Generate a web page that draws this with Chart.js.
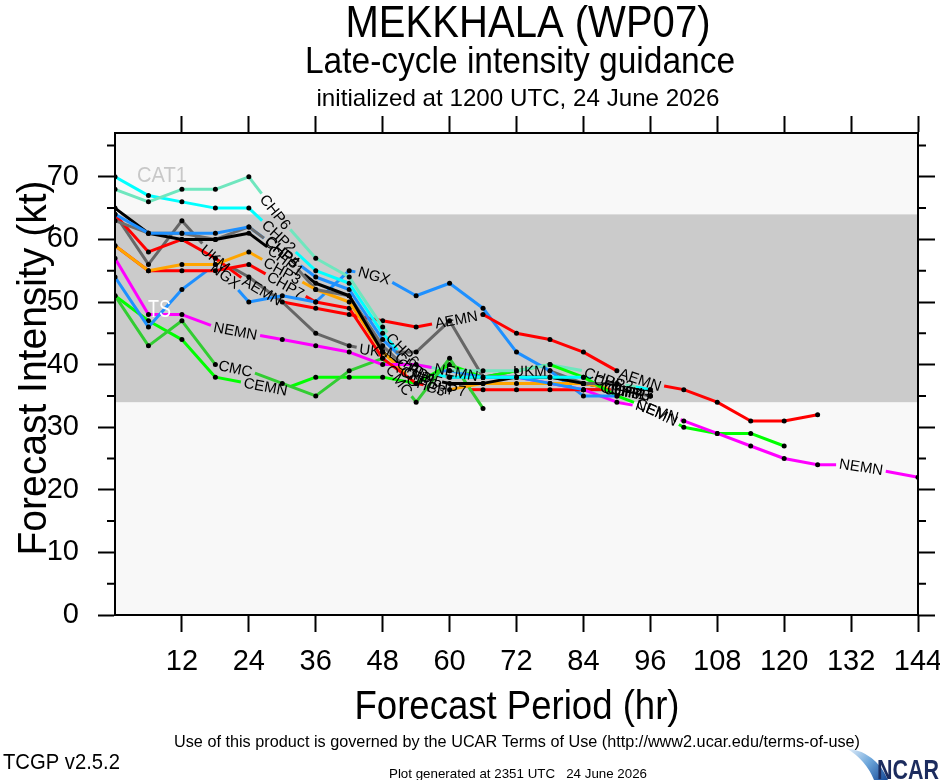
<!DOCTYPE html>
<html><head><meta charset="utf-8">
<script src="https://cdn.jsdelivr.net/npm/chart.js@4.4.1/dist/chart.umd.min.js"></script>
<style>html,body{margin:0;padding:0;background:#fff;}canvas{display:block;}</style>
</head><body>
<canvas id="c" width="940" height="780"></canvas>
<script>
// ---------------- data ----------------
const hours = [0,6,12,18,24,30,36,42,48,54,60,66,72,78,84,90,96,102,108,114,120,126,132,138,144];
const xTickLabels = [12,24,36,48,60,72,84,96,108,120,132,144];
const yTickLabels = [0,10,20,30,40,50,60,70];
const yMinorTicks = [5,15,25,35,45,55,65,75];
const seriesNames = ['CHP6','CHP2','CHP4','CHP1','CHP5','CHP3','CHP7','AEMN','NGX','UKM','NEMN','CMC','CEMN'];
const chp6 = [68,66,68,68,70,63,57,54,46,40,39,39,39,40,39,37,36];
const chp2 = [70,67,66,65,65,60,55,53,45,39,38,38,38,38,38,37,36];
const chp4 = [64,61,61,61,62,58,54,52,44,39,39,38,38,37,36,36,35];
const chp1 = [65,61,60,60,61,57,53,51,42,38,37,37,38,38,37,36,35];
const chp5 = [63,61,61,60,62,58,52,51,43,38,38,38,38,38,37,36,35];
const chp3 = [59,55,56,56,58,55,52,50,42,37,36,37,37,37,37,36,35];
const chp7 = [59,55,55,55,56,53,50,49,41,37,36,36,36,36,36,36,35];
const aemn = [64,58,60,57,53,50,49,48,47,46,47,48,45,44,42,39,37,36,34,31,31,32];
const ngx  = [54,46,52,56,50,51,50,55,54,51,53,49,42,39,35,35];
const ukm  = [64,56,63,57,54,50,45,43,42,42,47,38,39,39,37,37];
const nemn = [57,48,48,46,45,44,43,42,40,40,39,38,38,37,36,34,33,31,29,27,25,24,24,23,22];
const cmc  = [51,43,47,40,39,37,35,39,41,34,41,33];
const cemn = [51,47,44,38,37,36,38,38,38,37,40,38,39,40,38,35,33,30,29,29,27];
const seriesValues = [chp6,chp2,chp4,chp1,chp5,chp3,chp7,aemn,ngx,ukm,nemn,cmc,cemn];
const tsBand = [34,64];   // tropical storm range (kt)
const yMax = 77;

// ---------------- text ----------------
const titleText = 'MEKKHALA (WP07)';
const subtitleText = 'Late-cycle intensity guidance';
const initText = 'initialized at 1200 UTC, 24 June 2026';
const xTitleText = 'Forecast Period (hr)';
const yTitleText = 'Forecast Intensity (kt)';
const termsText = 'Use of this product is governed by the UCAR Terms of Use (http://www2.ucar.edu/terms-of-use)';
const versionText = 'TCGP v2.5.2';
const generatedText = 'Plot generated at 2351 UTC   24 June 2026';

// ---------------- styles ----------------
const seriesColors = ['#6fe6be','#00ffff','#1e90ff','#000000','#6e6e6e','#ffa500','#ff0000','#ff0000','#1e90ff','#666666','#ff00ff','#32cd32','#00ff00'];
// fractional point index where each in-line label sits
const labelAt = {
  CHP6:[4.8,8.6,14.6], CHP2:[4.9,8.9,14.9], CHP4:[5.0,9.0,15.2], CHP1:[5.1,9.1,15.3],
  CHP5:[5.0,9.2,15.1], CHP3:[5.0,9.3,15.4], CHP7:[5.1,9.9,15.5], AEMN:[4.4,10.2,15.7],
  NGX:[3.3,7.75], UKM:[3.0,7.8,12.4], NEMN:[3.6,10.2,16.2,22.3], CMC:[3.6,8.5], CEMN:[4.5,16.2]
};
const FONT = '"Liberation Sans", Arial, Helvetica, sans-serif';
const LABEL_FONT = '15px ' + FONT;
const DOT_R = 2.5;

function ptsOf(chart, di) {
  const ds = chart.data.datasets[di];
  const xs = chart.scales.x, ys = chart.scales.y;
  return ds.data.map(p => ({x: xs.getPixelForValue(p.x), y: ys.getPixelForValue(p.y)}));
}
function labelGeoms(chart, di) {
  const ds = chart.data.datasets[di];
  if (!ds.labelAt || !chart.scales.x) return [];
  const pts = ptsOf(chart, di);
  const ctx = chart.ctx;
  ctx.save(); ctx.font = LABEL_FONT;
  const w = ctx.measureText(ds.label).width;
  ctx.restore();
  const n = pts.length;
  const at = f => {
    f = Math.max(0, Math.min(n - 1, f));
    const i = Math.min(Math.floor(f), n - 2), t = f - i;
    return {x: pts[i].x + (pts[i+1].x - pts[i].x) * t, y: pts[i].y + (pts[i+1].y - pts[i].y) * t};
  };
  return ds.labelAt.map(f => {
    const c = at(f), a = at(f - 0.5), b = at(f + 0.5);
    return {c, ang: Math.atan2(b.y - a.y, b.x - a.x), r: w / 2 + 3};
  });
}
function cutIntervals(p0, p1, geoms) {
  const dx = p1.x - p0.x, dy = p1.y - p0.y, A = dx*dx + dy*dy;
  const out = [];
  if (A === 0) return out;
  geoms.forEach(g => {
    const fx = p0.x - g.c.x, fy = p0.y - g.c.y;
    const B = 2 * (dx*fx + dy*fy), C = fx*fx + fy*fy - g.r*g.r;
    const D = B*B - 4*A*C;
    if (D <= 0) return;
    const s = Math.sqrt(D);
    const a = Math.max(0, (-B - s) / (2*A)), b = Math.min(1, (-B + s) / (2*A));
    if (b > a) out.push([a, b]);
  });
  return out;
}

const datasets = seriesNames.map((name, i) => ({
  label: name,
  data: seriesValues[i].map((v, k) => ({x: hours[k], y: v})),
  borderColor: seriesColors[i],
  borderWidth: 3,
  borderJoinStyle: 'round',
  pointBackgroundColor: '#000',
  pointBorderWidth: 0,
  pointRadius: ctx => {
    if (ctx.type !== 'data') return DOT_R;
    const gs = labelGeoms(ctx.chart, ctx.datasetIndex);
    const p = ptsOf(ctx.chart, ctx.datasetIndex)[ctx.dataIndex];
    return gs.some(g => Math.hypot(p.x - g.c.x, p.y - g.c.y) < g.r) ? 0 : DOT_R;
  },
  tension: 0,
  fill: false,
  labelAt: labelAt[name],
  segment: {
    borderColor: ctx => {
      const gs = labelGeoms(ctx.chart, ctx.datasetIndex);
      return cutIntervals(ctx.p0, ctx.p1, gs).length ? 'rgba(0,0,0,0)' : undefined;
    }
  }
}));

function drawFitted(ctx, txt, x, y, size, width, align, color, rot, weight) {
  ctx.save();
  ctx.font = (weight || 'normal') + ' ' + size + 'px ' + FONT;
  const m = ctx.measureText(txt).width;
  ctx.translate(x, y);
  if (rot) ctx.rotate(rot);
  ctx.scale(width / m, 1);
  ctx.textAlign = align; ctx.textBaseline = 'alphabetic';
  ctx.fillStyle = color || '#000';
  ctx.fillText(txt, 0, 0);
  ctx.restore();
}

const backgroundPlugin = {
  id: 'bg',
  beforeDatasetsDraw(chart) {
    const {ctx, chartArea: a, scales: {y}} = chart;
    ctx.save();
    ctx.fillStyle = '#f8f8f8';
    ctx.fillRect(a.left, a.top, a.right - a.left, a.bottom - a.top);
    const y1 = y.getPixelForValue(tsBand[1]), y0 = y.getPixelForValue(tsBand[0]);
    ctx.fillStyle = '#cbcbcb';
    ctx.fillRect(a.left, y1, a.right - a.left, y0 - y1);
    ctx.restore();
    drawFitted(ctx, 'CAT1', a.left + 22, y.getPixelForValue((tsBand[1] + yMax) / 2) + 8, 22, 50, 'left', '#c8c8c8');
    // partial line pieces around in-line labels
    chart.data.datasets.forEach((ds, di) => {
      const gs = labelGeoms(chart, di);
      if (!gs.length) return;
      const pts = ptsOf(chart, di);
      ctx.save();
      ctx.strokeStyle = ds.borderColor; ctx.lineWidth = ds.borderWidth; ctx.lineCap = 'butt';
      for (let k = 0; k < pts.length - 1; k++) {
        const p0 = pts[k], p1 = pts[k+1];
        const cuts = cutIntervals(p0, p1, gs).sort((u, v) => u[0] - v[0]);
        if (!cuts.length) continue;
        let t = 0;
        const pieces = [];
        cuts.forEach(c => { if (c[0] > t) pieces.push([t, c[0]]); t = Math.max(t, c[1]); });
        if (t < 1) pieces.push([t, 1]);
        pieces.forEach(([s, e]) => {
          ctx.beginPath();
          ctx.moveTo(p0.x + (p1.x - p0.x) * s, p0.y + (p1.y - p0.y) * s);
          ctx.lineTo(p0.x + (p1.x - p0.x) * e, p0.y + (p1.y - p0.y) * e);
          ctx.stroke();
        });
      }
      ctx.restore();
    });
  },
  afterDatasetsDraw(chart) {
    const {ctx, chartArea: a, scales: {y}} = chart;
    drawFitted(ctx, 'TS', a.left + 33, y.getPixelForValue((tsBand[0] + tsBand[1]) / 2) + 9, 24, 23, 'left', '#ffffff');
    chart.data.datasets.forEach((ds, di) => {
      labelGeoms(chart, di).forEach(g => {
        let ang = g.ang;
        if (ang > Math.PI / 2) ang -= Math.PI;
        if (ang < -Math.PI / 2) ang += Math.PI;
        ctx.save();
        ctx.translate(g.c.x, g.c.y);
        ctx.rotate(ang);
        ctx.font = LABEL_FONT;
        ctx.fillStyle = '#000';
        ctx.textAlign = 'center'; ctx.textBaseline = 'middle';
        ctx.fillText(ds.label, 0, 1);
        ctx.restore();
      });
    });
    ctx.save();
    ctx.strokeStyle = '#000'; ctx.lineWidth = 2;
    ctx.strokeRect(a.left, a.top, a.right - a.left, a.bottom - a.top);
    ctx.beginPath();
    yMinorTicks.forEach(v => {
      const py = y.getPixelForValue(v);
      ctx.moveTo(a.left - 8, py); ctx.lineTo(a.left, py);
      ctx.moveTo(a.right, py); ctx.lineTo(a.right + 8, py);
    });
    ctx.stroke();
    ctx.restore();
  },
  afterDraw(chart) {
    const ctx = chart.ctx;
    drawFitted(ctx, titleText, 528, 37, 45, 365, 'center');
    drawFitted(ctx, subtitleText, 520, 73, 36, 430, 'center');
    drawFitted(ctx, initText, 518, 106, 24, 403, 'center');
    drawFitted(ctx, yTitleText, 46, 368, 41, 375, 'center', '#000', -Math.PI / 2);
    drawFitted(ctx, xTitleText, 517, 719, 40, 325, 'center');
    drawFitted(ctx, termsText, 517, 747, 17, 686, 'center');
    drawFitted(ctx, versionText, 3, 769, 22, 117, 'left');
    drawFitted(ctx, generatedText, 518, 778, 13, 258, 'center');
    // NCAR logo
    ctx.save();
    const g = ctx.createLinearGradient(848, 748, 885, 780);
    g.addColorStop(0, '#e6f0fa'); g.addColorStop(0.5, '#6fa8dc'); g.addColorStop(1, '#1b4f9c');
    ctx.fillStyle = g;
    ctx.beginPath();
    ctx.moveTo(846, 748);
    ctx.quadraticCurveTo(876, 752, 888, 780);
    ctx.lineTo(874, 780);
    ctx.quadraticCurveTo(866, 760, 846, 748);
    ctx.fill();
    ctx.restore();
    drawFitted(ctx, 'NCAR', 877, 779, 28, 62, 'left', '#1c2c5e', 0, 'bold');
  }
};

function axisFit(size, horizontal) {
  return scale => {
    if (horizontal) { scale.height = size; } else { scale.width = size; }
    scale.paddingLeft = 0; scale.paddingRight = 0; scale.paddingTop = 0; scale.paddingBottom = 0;
  };
}
const tickFont = {family: 'Liberation Sans', size: 29};
const gridOpts = {drawOnChartArea: false, drawTicks: true, tickLength: 17, tickWidth: 2,
  tickColor: ctx => (ctx.tick && ctx.tick.value === 0 && ctx.scale.isHorizontal()) ? 'rgba(0,0,0,0)' : '#000'};
const borderOpts = {display: true, color: '#000', width: 2};

new Chart(document.getElementById('c'), {
  type: 'line',
  data: {datasets},
  options: {
    responsive: false,
    animation: false,
    events: [],
    layout: {padding: {top: 116, left: 0, right: 0, bottom: 0}},
    plugins: {legend: {display: false}, tooltip: {enabled: false}, title: {display: false}},
    scales: {
      x: {type: 'linear', position: 'bottom', min: 0, max: 144,
        afterBuildTicks: s => { s.ticks = xTickLabels.map(v => ({value: v})); },
        afterFit: axisFit(165, true),
        ticks: {font: tickFont, color: '#000', padding: 13, maxRotation: 0, autoSkip: false},
        grid: gridOpts, border: borderOpts},
      x2: {type: 'linear', position: 'top', min: 0, max: 144,
        afterBuildTicks: s => { s.ticks = xTickLabels.map(v => ({value: v})); },
        afterFit: axisFit(17, true),
        ticks: {display: false}, grid: gridOpts, border: borderOpts},
      y: {type: 'linear', position: 'left', min: 0, max: yMax,
        afterBuildTicks: s => { s.ticks = yTickLabels.map(v => ({value: v})); },
        afterFit: axisFit(115, false),
        ticks: {font: tickFont, color: '#000', padding: 19},
        grid: gridOpts, border: borderOpts},
      y2: {type: 'linear', position: 'right', min: 0, max: yMax,
        afterBuildTicks: s => { s.ticks = yTickLabels.map(v => ({value: v})); },
        afterFit: axisFit(22, false),
        ticks: {display: false}, grid: gridOpts, border: borderOpts}
    }
  },
  plugins: [backgroundPlugin]
});
</script>
</body></html>
